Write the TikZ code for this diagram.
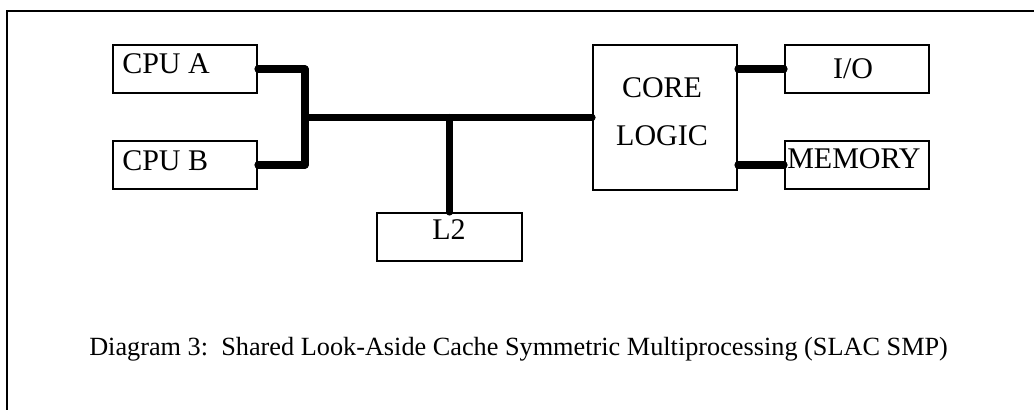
\documentclass[tikz,border=0pt]{standalone}
\usepackage{fontspec}
\setmainfont{Liberation Serif}
\begin{document}
\begin{tikzpicture}[x=0.75pt,y=-0.75pt,
  box/.style={draw=black,line width=1.5pt,inner sep=0pt,minimum width=108pt,minimum height=36pt},
  lbl/.style={inner sep=0pt,font=\fontsize{22.5}{26}\selectfont},
  captext/.style={inner sep=0pt,font=\fontsize{19.7}{24}\selectfont},
  bus/.style={line width=5.4pt,line cap=round,line join=round},
  frame/.style={line width=1.2pt}]
\useasboundingbox (0,0) rectangle (1034,410);
% frame (only top and left edges visible)
\coordinate (f0) at (7,11);
\coordinate (f1) at (1040,11);
\coordinate (f2) at (7,416);
\draw[frame] (f1) -- (f0) -- (f2);
% boxes
\node[box] (cpua) at (185,69) {};
\node[box] (cpub) at (185,165) {};
\node[box,minimum width=108.75pt] (l2) at (449.5,237) {};
\node[box,minimum height=108.75pt] (core) at (665,117.5) {};
\node[box] (io) at (857,69) {};
\node[box] (mem) at (857,165) {};
% labels
\node[lbl,anchor=base west] (tcpua) at (122,74) {CPU A};
\node[lbl,anchor=base west] (tcpub) at (122,170) {CPU B};
\node[lbl,anchor=base] (tl2) at (449,239) {L2};
\node[lbl,anchor=base] (tcore) at (662,97) {CORE};
\node[lbl,anchor=base] (tlogic) at (662,145) {LOGIC};
\node[lbl,anchor=base] (tio) at (853,79) {I/O};
\node[lbl,anchor=base west] (tmem) at (787,168) {MEMORY};
% bus
\coordinate (J) at (305,117.5);
\coordinate (K) at (449.5,117.5);
\draw[bus] (cpua.east) -| (J) |- (cpub.east);
\draw[bus] (J) -- (core.west);
\draw[bus] (K) -- (l2.north);
\draw[bus] (core.east |- io.west) -- (io.west);
\draw[bus] (core.east |- mem.west) -- (mem.west);
% caption
\node[captext,anchor=base west] (caption) at (89,355) {Diagram 3:\ \ Shared Look-Aside Cache Symmetric Multiprocessing (SLAC SMP)};
\end{tikzpicture}
\end{document}
